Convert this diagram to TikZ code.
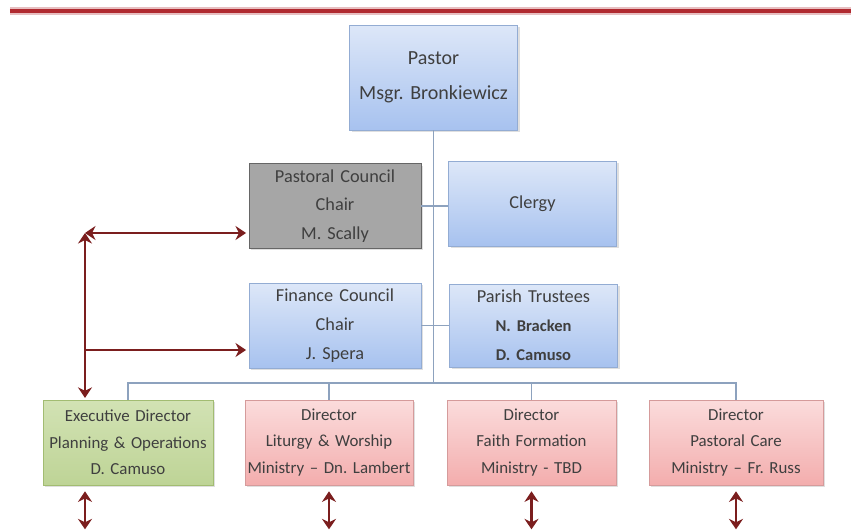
\documentclass[tikz,border=0pt]{standalone}
\usepackage{fontspec}
\setmainfont{Carlito}[WordSpace=0.8]
\usepackage{xcolor}
\usepackage{tikz}
\usetikzlibrary{arrows.meta,shadows}
\definecolor{ruleRed}{HTML}{B02A30}
\definecolor{linkRed}{HTML}{7B1E1E}
\definecolor{tieGray}{HTML}{8DA2BE}
\definecolor{textGray}{HTML}{3F3F3F}
\definecolor{blueTop}{HTML}{DDE7F8}
\definecolor{blueBottom}{HTML}{A7C2EF}
\definecolor{blueLine}{HTML}{93ACD3}
\definecolor{greenTop}{HTML}{D2E2B4}
\definecolor{greenBottom}{HTML}{BED496}
\definecolor{greenLine}{HTML}{A2BC72}
\definecolor{pinkTop}{HTML}{FBDCDC}
\definecolor{pinkBottom}{HTML}{F3ADAD}
\definecolor{pinkLine}{HTML}{D59B9B}
\tikzset{
	unit/.style={rectangle, align=center, text width=3.3cm, inner xsep=0.03cm, text=textGray,
		font=\fontsize{10.4}{16.4}\selectfont,
		drop shadow={shadow xshift=0.04cm, shadow yshift=-0.04cm, opacity=0.25}},
	blueunit/.style={unit, draw=blueLine, top color=blueTop, bottom color=blueBottom},
	grayunit/.style={unit, draw=black!60, fill=black!35},
	greenunit/.style={unit, draw=greenLine, top color=greenTop, bottom color=greenBottom,
		font=\fontsize{9.6}{15}\selectfont},
	pinkunit/.style={unit, draw=pinkLine, top color=pinkTop, bottom color=pinkBottom,
		font=\fontsize{9.6}{15}\selectfont},
	tie/.style={draw=tieGray, line width=0.8pt},
	link/.style={draw=linkRed, line width=1.5pt, arrows={Stealth[length=6pt,width=8pt,inset=2pt]-Stealth[length=6pt,width=8pt,inset=2pt]}},
	onelink/.style={draw=linkRed, line width=1.5pt, -{Stealth[length=6pt,width=8pt,inset=2pt]}}
}

\begin{document}
\frenchspacing
\begin{tikzpicture}
	\useasboundingbox (0,0) rectangle (17.02,-10.62);
	% title rule
	\draw[line width=4.5pt, ruleRed!30] (0.2,-0.22) -- (17.02,-0.22);
	\draw[line width=2.3pt, ruleRed] (0.2,-0.22) -- (17.02,-0.22);
	% boxes
	\node[blueunit, minimum width=3.34cm, minimum height=2.10cm, font=\fontsize{11.4}{19.8}\selectfont] (pastor) at (8.67,-1.55) {Pastor\\Msgr. Bronkiewicz};
	\node[grayunit, minimum width=3.44cm, minimum height=1.64cm] (pcouncil) at (6.70,-4.12) {Pastoral Council\\Chair\\M. Scally};
	\node[blueunit, minimum width=3.34cm, minimum height=1.70cm] (clergy) at (10.65,-4.07) {Clergy};
	\node[blueunit, minimum width=3.44cm, minimum height=1.66cm] (fcouncil) at (6.70,-6.51) {Finance Council\\Chair\\J. Spera};
	\node[blueunit, minimum width=3.34cm, minimum height=1.66cm] (trustees) at (10.67,-6.51) {Parish Trustees\\{\fontsize{9.4}{16.4}\selectfont\bfseries N. Bracken}\\{\fontsize{9.4}{16.4}\selectfont\bfseries D. Camuso}};
	\node[greenunit, minimum width=3.40cm, minimum height=1.70cm] (exec) at (2.56,-8.85) {Executive Director\\Planning \& Operations\\D. Camuso};
	\node[pinkunit, minimum width=3.36cm, minimum height=1.70cm] (liturgy) at (6.58,-8.85) {Director\\Liturgy \& Worship\\Ministry -- Dn. Lambert};
	\node[pinkunit, minimum width=3.38cm, minimum height=1.70cm] (faith) at (10.63,-8.85) {Director\\Faith Formation\\Ministry - TBD};
	\node[pinkunit, minimum width=3.48cm, minimum height=1.70cm] (care) at (14.72,-8.85) {Director\\Pastoral Care\\Ministry -- Fr. Russ};
	% reporting lines
	\coordinate (bus) at (8.67,-7.66);
	\draw[tie] (pastor.south) -- (bus);
	\draw[tie] (pcouncil.east) -- (pcouncil.east -| clergy.west);
	\draw[tie] (fcouncil.east) -- (trustees.west);
	\draw[tie] (exec.north) |- (care.north |- bus) -- (care.north);
	\foreach \n in {liturgy,faith}
		\draw[tie] (\n.north) -- (\n.north |- bus);
	% red links
	\coordinate (corner) at (1.70,-4.66);
	\coordinate (fjoin) at (1.70,-7.00);
	\draw[link, shorten >=1.5pt] (corner) -- (corner -| pcouncil.west);
	\draw[link, shorten >=1pt] (corner) -- (corner |- exec.north);
	\draw[onelink, shorten >=1.5pt] (fjoin) -- (fjoin -| fcouncil.west);
	\draw[link] ([yshift=-0.12cm]corner |- exec.south) -- ++(0,-0.76);
	\foreach \n in {liturgy,faith,care}
		\draw[link] ([yshift=-0.12cm]\n.south) -- ++(0,-0.76);
\end{tikzpicture}
\end{document}
